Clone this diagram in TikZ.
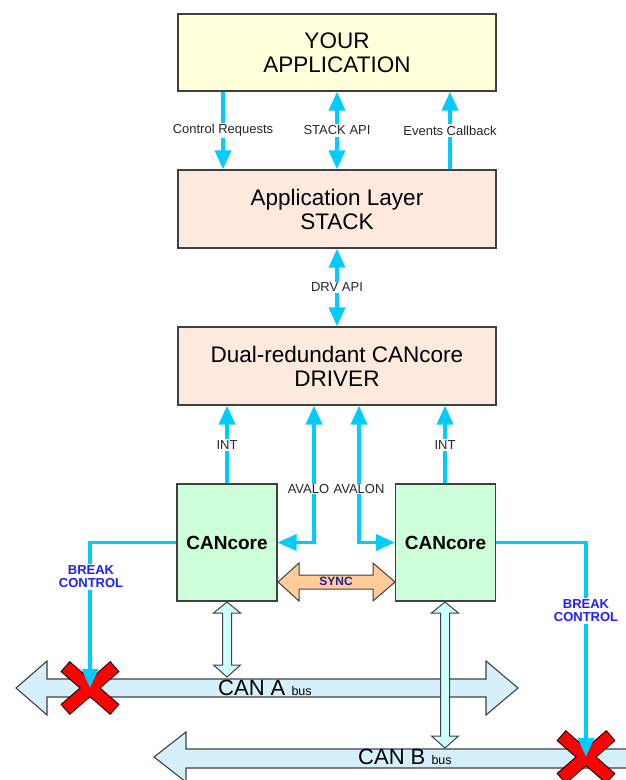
\documentclass[tikz,border=0pt]{standalone}
\usepackage{fontspec}
\setmainfont{Liberation Sans}
\usetikzlibrary{arrows.meta,calc}
\definecolor{yel}{HTML}{FFFFD9}
\definecolor{peach}{HTML}{FDE9DD}
\definecolor{grn}{HTML}{CCFFD9}
\definecolor{cy}{HTML}{00CCFF}
\definecolor{busc}{HTML}{D5F0FA}
\definecolor{vcy}{HTML}{CCFFFF}
\definecolor{org}{HTML}{FFCC99}
\definecolor{brk}{HTML}{2020FF}
\definecolor{navy}{HTML}{202090}
\definecolor{bord}{HTML}{404040}
\definecolor{xred}{HTML}{FF0000}
\begin{document}
\begin{tikzpicture}[x=1pt,y=-1pt,
  box/.style={draw=bord,line width=1.3pt,minimum width=318pt,align=center,
    font=\fontsize{22.5}{24}\selectfont,inner sep=0pt},
  core/.style={draw=bord,line width=1.1pt,fill=grn,minimum width=100pt,minimum height=117pt,
    font=\fontsize{19}{20}\selectfont\bfseries,inner sep=0pt},
  conn/.style={draw=cy,line width=3.6pt},
  tip/.tip={Triangle[width=16pt,length=19pt]},
  lbl/.style={fill=white,inner sep=1.5pt,font=\fontsize{13}{15}\selectfont,text=black!85},
  brklbl/.style={fill=white,inner sep=1.5pt,align=center,font=\fontsize{13}{13}\selectfont\bfseries,text=brk},
  busshape/.style={draw=bord,line width=1.1pt,fill=busc,line join=miter},
  vbus/.style={draw=bord,line width=1pt,fill=vcy,line join=miter},
  xline/.style={draw=black,line width=2pt},
]
\useasboundingbox (0,0) rectangle (626,780);

% ---- buses ----
\draw[busshape] (16,688) -- (47,661) -- (47,679) -- (486,679) -- (486,661) -- (518,688)
  -- (486,715) -- (486,697) -- (47,697) -- (47,715) -- cycle;
\node[anchor=west,inner sep=0pt,font=\fontsize{22}{24}\selectfont] (canA) at (218,688)
  {CAN A {\fontsize{12.5}{14}\selectfont bus}};
\draw[busshape] (154,757) -- (186,732) -- (186,749) -- (640,749) -- (640,768) -- (186,768)
  -- (186,782) -- cycle;
\node[anchor=west,inner sep=0pt,font=\fontsize{22}{24}\selectfont] (canB) at (358,757)
  {CAN B {\fontsize{12.5}{14}\selectfont bus}};

% ---- vertical bus links ----
\draw[vbus] (227,602) -- (240.5,613) -- (231.5,613) -- (231.5,665) -- (240.5,665) -- (227,677)
  -- (213.5,665) -- (222.5,665) -- (222.5,613) -- (213.5,613) -- cycle;
\draw[vbus] (445,602) -- (458.5,613) -- (449.5,613) -- (449.5,736) -- (458.5,736) -- (445,748)
  -- (431.5,736) -- (440.5,736) -- (440.5,613) -- (431.5,613) -- cycle;

% ---- red crosses ----
\coordinate (xA) at (90,688);
\coordinate (xB) at (586,757);
\foreach \c in {xA,xB}{
  \draw[xline] [rotate around={41:(\c)}] ($(\c)+(-32,-6)$) rectangle ($(\c)+(32,6)$);
  \draw[xline] [rotate around={-41:(\c)}] ($(\c)+(-32,-6)$) rectangle ($(\c)+(32,6)$);
  \fill[xred] [rotate around={41:(\c)}] ($(\c)+(-32,-6)$) rectangle ($(\c)+(32,6)$);
  \fill[xred] [rotate around={-41:(\c)}] ($(\c)+(-32,-6)$) rectangle ($(\c)+(32,6)$);
}

% ---- boxes ----
\node[box,fill=yel,minimum height=77pt] (app) at (337,52.5) {YOUR\\APPLICATION};
\node[box,fill=peach,minimum height=78pt] (als) at (337,209) {Application Layer\\STACK};
\node[box,fill=peach,minimum height=78pt] (drv) at (337,366) {Dual-redundant CANcore\\DRIVER};
\node[core] (cl) at (227,542.5) {CANcore};
\node[core] (cr) at (445.5,542.5) {CANcore};

% ---- SYNC ----
\draw[draw=bord,line width=1pt,fill=org,line join=miter] (278,582) -- (299,563) -- (299,575) -- (373,575)
  -- (373,563) -- (395,582) -- (373,601) -- (373,589) -- (299,589) -- (299,601) -- cycle;
\node[font=\fontsize{12}{13}\selectfont\bfseries,text=navy] (sync) at (336,581) {SYNC};

% ---- connectors ----
\draw[conn,-tip] ([xshift=-114pt]app.south) -- ([xshift=-114pt]als.north)
  node[midway,lbl] {Control Requests};
\draw[conn,tip-tip] (app.south) -- (als.north) node[midway,lbl] {STACK API};
\draw[conn,-tip] ([xshift=113pt]als.north) -- ([xshift=113pt]app.south)
  node[midway,lbl] {Events Callback};
\draw[conn,tip-tip] (als.south) -- (drv.north) node[midway,lbl] {DRV API};

\draw[conn,-tip] (cl.north) -- (cl.north |- drv.south) node[midway,lbl] {INT};
\draw[conn,-tip] ([xshift=-0.5pt]cr.north) -- ([xshift=-0.5pt]cr.north |- drv.south) node[midway,lbl] {INT};

\draw[conn,tip-tip] ([xshift=-23pt]drv.south) |- (cl.east);
\draw[conn,tip-tip] ([xshift=22pt]drv.south) |- (cr.west);
\node[lbl,inner sep=0.8pt] (avl) at (308.5,489) {AVALO};
\node[lbl,inner sep=0.8pt] (avr) at (359,489) {AVALON};

\draw[conn,-tip] (cl.west) -| (xA);
\node[brklbl] (bkl) at (91,577) {BREAK\\CONTROL};
\draw[conn,-tip] (cr.east) -| (xB);
\node[brklbl] (bkr) at (586,611) {BREAK\\CONTROL};
\end{tikzpicture}
\end{document}
